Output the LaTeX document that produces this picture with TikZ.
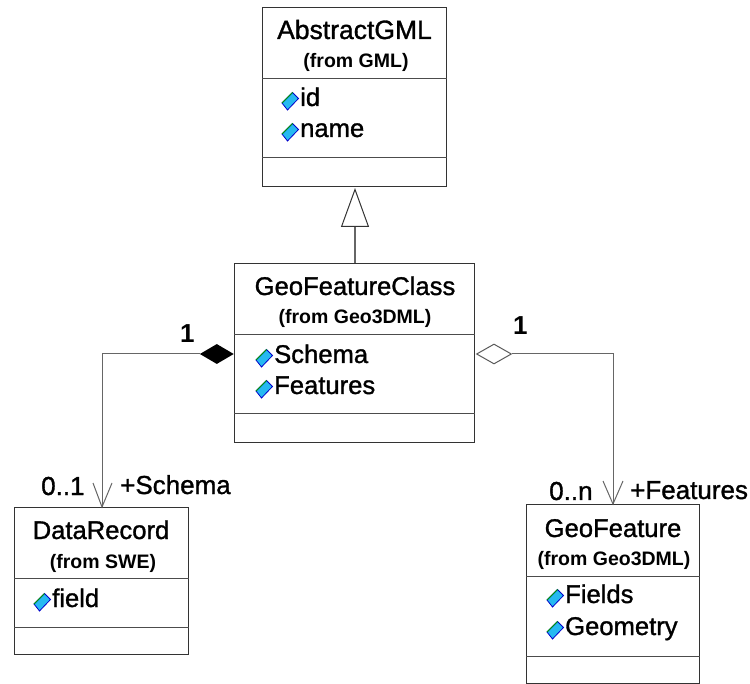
\documentclass[tikz,border=0pt]{standalone}
\usepackage{fontspec}
\setmainfont{Liberation Sans}
\newfontfamily\heavyfont{Liberation Sans}[FakeBold=1.2]
\usetikzlibrary{arrows.meta}
\usetikzlibrary{shapes.geometric}
\tikzset{
	x=1pt,y=-1pt,
	classbox/.style={draw=black!80,line width=1pt,fill=white,inner sep=0pt,anchor=north west},
	rule/.style={draw=black!70,line width=1pt},
	classname/.style={font=\heavyfont\fontsize{25.6}{26}\selectfont,anchor=base},
	fromname/.style={font=\fontsize{19.5}{20}\selectfont\bfseries,anchor=base},
	attrname/.style={font=\heavyfont\fontsize{25.6}{26}\selectfont,anchor=base west,inner sep=0pt},
	endlabel/.style={font=\heavyfont\fontsize{26}{26}\selectfont,anchor=base west,inner sep=0pt},
	link/.style={draw=black!60,line width=1pt},
	pics/attrmark/.style={code={
			\filldraw[draw=blue!80!black,fill=cyan!85!white,line width=.8pt] (-8,2) -- (2.5,-8.5) -- (8.5,-2.5) -- (-2.5,9) -- cycle;
			\draw[green!60!black,line width=.8pt] (-8,2) -- (2.5,-8.5);
	}}
}
\begin{document}
\begin{tikzpicture}
	\useasboundingbox (0,0) rectangle (750,684);

	% classes
	\node[classbox,minimum width=184pt,minimum height=179pt] (abstract) at (262,7) {};
	\node[classbox,minimum width=240pt,minimum height=179pt] (featureclass) at (234,263) {};
	\node[classbox,minimum width=174pt,minimum height=147pt] (record) at (14,507) {};
	\node[classbox,minimum width=173pt,minimum height=179pt] (feature) at (526,504) {};

	% compartments
	\foreach \cls/\a/\b in {abstract/78.5/158,featureclass/335/414,record/578/627,feature/576/656}{
		\draw[rule] (\cls.west |- 0,\a) -- (\cls.east |- 0,\a);
		\draw[rule] (\cls.west |- 0,\b) -- (\cls.east |- 0,\b);
	}

	% names
	\node[classname,font=\heavyfont\fontsize{26.5}{27}\selectfont] (abstractname) at (354.5,39) {AbstractGML};
	\node[fromname] (abstractfrom) at (356,68) {(from GML)};
	\node[classname] (featureclassname) at (355,295) {GeoFeatureClass};
	\node[fromname] (featureclassfrom) at (355,324) {(from Geo3DML)};
	\node[classname] (recordname) at (101,539) {DataRecord};
	\node[fromname] (recordfrom) at (103,568) {(from SWE)};
	\node[classname] (featurename) at (613,537) {GeoFeature};
	\node[fromname] (featurefrom) at (614,565) {(from Geo3DML)};

	% attributes
	\foreach \px/\py/\txt in {290/106/id,290/137/name,
		264/363/Schema,264/394/Features,
		42/607/field,
		555/603/Fields,555/635/Geometry}{
		\pic at (\px,\py-5) {attrmark};
		\node[attrname] at (\px+10,\py) {\txt};
	}

	% generalization
	\coordinate (featureclasstop) at (featureclass.north -| 355,0);
	\coordinate (abstractbottom) at (355,188);
	\draw[link,line width=1.5pt,-{Triangle[open,length=39pt,width=28pt,line width=1pt,color=black!80]}] (featureclasstop) -- (abstractbottom);

	% composition
	\coordinate (leftbend) at (102,354);
	\coordinate (recordtop) at (record.north -| 102,0);
	\node[diamond,fill=black,inner sep=0pt,minimum width=34pt,minimum height=20pt,anchor=east] (filled) at (234,354) {};
	\draw[link] (filled) -- (leftbend) -- (recordtop);
	\draw[link] (93,483) -- (recordtop) -- (112,483);

	% aggregation
	\coordinate (rightbend) at (613,354);
	\coordinate (featuretop) at (feature.north -| 613,0);
	\node[diamond,draw=black!65,line width=1pt,inner sep=0pt,minimum width=35pt,minimum height=20pt,anchor=west] (hollow) at (476,354) {};
	\draw[link] (hollow) -- (rightbend) -- (featuretop);
	\draw[link] (603,481) -- (featuretop) -- (623,481);

	% end labels
	\node[endlabel,font=\fontsize{26}{26}\selectfont\bfseries] (oneleft) at (180,343) {1};
	\node[endlabel,font=\fontsize{26}{26}\selectfont\bfseries] (oneright) at (513,335) {1};
	\node[endlabel] (zeroone) at (41,495) {0..1};
	\node[endlabel] (schemarole) at (120,494) {+Schema};
	\node[endlabel] (zeron) at (549,500) {0..n};
	\node[endlabel] (featuresrole) at (630,499) {+Features};
\end{tikzpicture}
\end{document}
